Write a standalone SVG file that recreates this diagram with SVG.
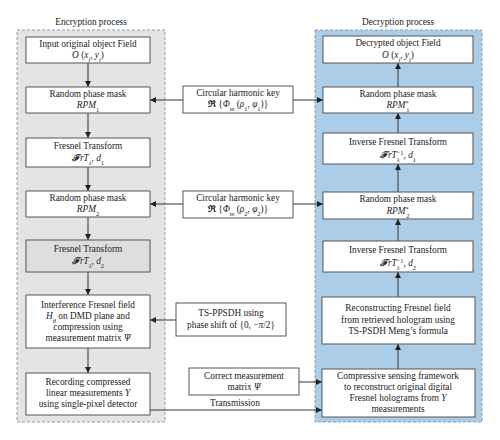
<svg xmlns="http://www.w3.org/2000/svg" width="500" height="440" viewBox="0 0 500 440">
<defs>
<marker id="ah" viewBox="0 0 6 6" refX="6" refY="3" markerWidth="6" markerHeight="6" orient="auto" markerUnits="userSpaceOnUse"><path d="M0,0 L6,3 L0,6 z" fill="#222"/></marker>
<style>
text{font-family:"Liberation Serif","Times New Roman",serif;font-size:9.3px;fill:#222;text-anchor:middle}
.i{font-style:italic}
.s{font-size:6.5px}
.box{fill:#fff;stroke:#555;stroke-width:1}
.gbox{fill:#dedede;stroke:#555;stroke-width:1}
.panel{stroke:#7aa2c4;stroke-width:1;stroke-dasharray:3,2}
.c{stroke:#333;stroke-width:1;fill:none}
.ca{stroke:#333;stroke-width:1;fill:none;marker-end:url(#ah)}
</style>
</defs>
<rect width="500" height="440" fill="#fff"/>
<g id="enc-panel">
<rect class="panel" x="17" y="30" width="148" height="392" fill="#e4e4e4"/>
<text x="91" y="25">Encryption process</text>
</g>
<g id="dec-panel">
<rect class="panel" x="315" y="30" width="167" height="392" fill="#abcde8"/>
<text x="398" y="25">Decryption process</text>
</g>
<g id="connectors">
<line class="ca" x1="88" y1="63" x2="88" y2="87"/>
<line class="ca" x1="88" y1="113" x2="88" y2="138"/>
<line class="ca" x1="88" y1="167" x2="88" y2="191"/>
<line class="ca" x1="88" y1="217" x2="88" y2="240"/>
<line class="ca" x1="88" y1="272" x2="88" y2="295"/>
<line class="ca" x1="88" y1="348" x2="88" y2="373"/>
<line class="ca" x1="398" y1="87" x2="398" y2="63"/>
<line class="ca" x1="398" y1="133" x2="398" y2="113"/>
<line class="ca" x1="398" y1="192" x2="398" y2="164"/>
<line class="ca" x1="398" y1="241" x2="398" y2="219"/>
<line class="ca" x1="398" y1="297" x2="398" y2="272"/>
<line class="ca" x1="398" y1="369" x2="398" y2="344"/>
<line class="ca" x1="183" y1="100" x2="150" y2="100"/>
<line class="ca" x1="293" y1="100" x2="323" y2="100"/>
<line class="ca" x1="183" y1="204" x2="150" y2="204"/>
<line class="ca" x1="293" y1="204" x2="323" y2="204"/>
<line class="ca" x1="176" y1="320" x2="150" y2="320"/>
<line class="ca" x1="299" y1="382" x2="322" y2="382"/>
<line class="ca" x1="150" y1="410" x2="322" y2="410"/>
<text x="235" y="406">Transmission</text>
</g>
<g id="e1"><rect class="box" x="26" y="37" width="124" height="26"/>
<text x="88" y="47">Input original object Field</text>
<text x="88" y="58"><tspan class="i">O</tspan> (<tspan class="i">x</tspan><tspan class="s i" baseline-shift="sub">i</tspan>, <tspan class="i">y</tspan><tspan class="s i" baseline-shift="sub">i</tspan>)</text></g>
<g id="e2"><rect class="box" x="26" y="87" width="124" height="26"/>
<text x="88" y="97">Random phase mask</text>
<text x="88" y="108"><tspan class="i">RPM</tspan><tspan class="s" baseline-shift="sub">1</tspan></text></g>
<g id="e3"><rect class="box" x="26" y="138" width="124" height="29"/>
<text x="88" y="149">Fresnel Transform</text>
<text x="88" y="161"><tspan class="i" font-weight="bold">ℱ</tspan><tspan class="i">rT</tspan><tspan class="s i" baseline-shift="sub">λ</tspan>, <tspan class="i">d</tspan><tspan class="s" baseline-shift="sub">1</tspan></text></g>
<g id="e4"><rect class="box" x="26" y="191" width="124" height="26"/>
<text x="88" y="201">Random phase mask</text>
<text x="88" y="212"><tspan class="i">RPM</tspan><tspan class="s" baseline-shift="sub">2</tspan></text></g>
<g id="e5"><rect class="gbox" x="26" y="240" width="124" height="32"/>
<text x="88" y="252">Fresnel Transform</text>
<text x="88" y="264"><tspan class="i" font-weight="bold">ℱ</tspan><tspan class="i">rT</tspan><tspan class="s i" baseline-shift="sub">λ</tspan>, <tspan class="i">d</tspan><tspan class="s" baseline-shift="sub">2</tspan></text></g>
<g id="e6"><rect class="box" x="26" y="295" width="124" height="53"/>
<text x="88" y="308">Interference Fresnel field</text>
<text x="88" y="319"><tspan class="i">H</tspan><tspan class="s i" baseline-shift="sub">θ</tspan> on DMD plane and</text>
<text x="88" y="330">compression using</text>
<text x="88" y="341">measurement matrix <tspan class="i">Ψ</tspan></text></g>
<g id="e7"><rect class="box" x="26" y="373" width="124" height="42"/>
<text x="88" y="385">Recording compressed</text>
<text x="88" y="396">linear measurements <tspan class="i">Y</tspan></text>
<text x="88" y="407">using single-pixel detector</text></g>
<g id="k1"><rect class="box" x="183" y="86" width="110" height="27"/>
<text x="238" y="96">Circular harmonic key</text>
<text x="238" y="107"><tspan font-weight="bold">ℜ</tspan> {<tspan class="i">Φ</tspan><tspan class="s i" baseline-shift="sub">m</tspan> (<tspan class="i">ρ</tspan><tspan class="s" baseline-shift="sub">1</tspan>, <tspan class="i">φ</tspan><tspan class="s" baseline-shift="sub">1</tspan>)}</text></g>
<g id="k2"><rect class="box" x="183" y="191" width="110" height="27"/>
<text x="238" y="201">Circular harmonic key</text>
<text x="238" y="212"><tspan font-weight="bold">ℜ</tspan> {<tspan class="i">Φ</tspan><tspan class="s i" baseline-shift="sub">m</tspan> (<tspan class="i">ρ</tspan><tspan class="s" baseline-shift="sub">2</tspan>, <tspan class="i">φ</tspan><tspan class="s" baseline-shift="sub">2</tspan>)}</text></g>
<g id="ts"><rect class="box" x="176" y="303" width="110" height="33"/>
<text x="231" y="316">TS-PPSDH using</text>
<text x="231" y="328">phase shift of {0, −<tspan class="i">π</tspan>/2}</text></g>
<g id="cm"><rect class="box" x="189" y="368" width="110" height="27"/>
<text x="244" y="379">Correct measurement</text>
<text x="244" y="390">matrix <tspan class="i">Ψ</tspan></text></g>
<g id="d1"><rect class="box" x="323" y="36" width="150" height="27"/>
<text x="398" y="46">Decrypted object Field</text>
<text x="398" y="58"><tspan class="i">O</tspan> (<tspan class="i">x</tspan><tspan class="s i" baseline-shift="sub">i</tspan>, <tspan class="i">y</tspan><tspan class="s i" baseline-shift="sub">i</tspan>)</text></g>
<g id="d2"><rect class="box" x="323" y="87" width="150" height="26"/>
<text x="398" y="97">Random phase mask</text>
<text x="398" y="108"><tspan class="i">RPM</tspan><tspan class="s" baseline-shift="super">*</tspan><tspan class="s" dx="-2.5" baseline-shift="sub">1</tspan></text></g>
<g id="d3"><rect class="box" x="323" y="133" width="150" height="31"/>
<text x="398" y="145">Inverse Fresnel Transform</text>
<text x="398" y="158"><tspan class="i" font-weight="bold">ℱ</tspan><tspan class="i">rT</tspan><tspan class="s i" baseline-shift="sub">λ</tspan><tspan class="s" dx="-3" baseline-shift="super">−1</tspan>, <tspan class="i">d</tspan><tspan class="s" baseline-shift="sub">1</tspan></text></g>
<g id="d4"><rect class="box" x="323" y="192" width="150" height="27"/>
<text x="398" y="202">Random phase mask</text>
<text x="398" y="214"><tspan class="i">RPM</tspan><tspan class="s" baseline-shift="super">*</tspan><tspan class="s" dx="-2.5" baseline-shift="sub">2</tspan></text></g>
<g id="d5"><rect class="box" x="323" y="241" width="150" height="31"/>
<text x="398" y="253">Inverse Fresnel Transform</text>
<text x="398" y="266"><tspan class="i" font-weight="bold">ℱ</tspan><tspan class="i">rT</tspan><tspan class="s i" baseline-shift="sub">λ</tspan><tspan class="s" dx="-3" baseline-shift="super">−1</tspan>, <tspan class="i">d</tspan><tspan class="s" baseline-shift="sub">2</tspan></text></g>
<g id="d6"><rect class="box" x="322" y="297" width="153" height="47"/>
<text x="398" y="311">Reconstructing Fresnel field</text>
<text x="398" y="323">from retrieved hologram using</text>
<text x="398" y="334">TS-PSDH Meng’s formula</text></g>
<g id="d7"><rect class="box" x="322" y="369" width="153" height="48"/>
<text x="398" y="379">Compressive sensing framework</text>
<text x="398" y="390">to reconstruct original digital</text>
<text x="398" y="401">Fresnel holograms from <tspan class="i">Y</tspan></text>
<text x="398" y="412">measurements</text></g>
</svg>
